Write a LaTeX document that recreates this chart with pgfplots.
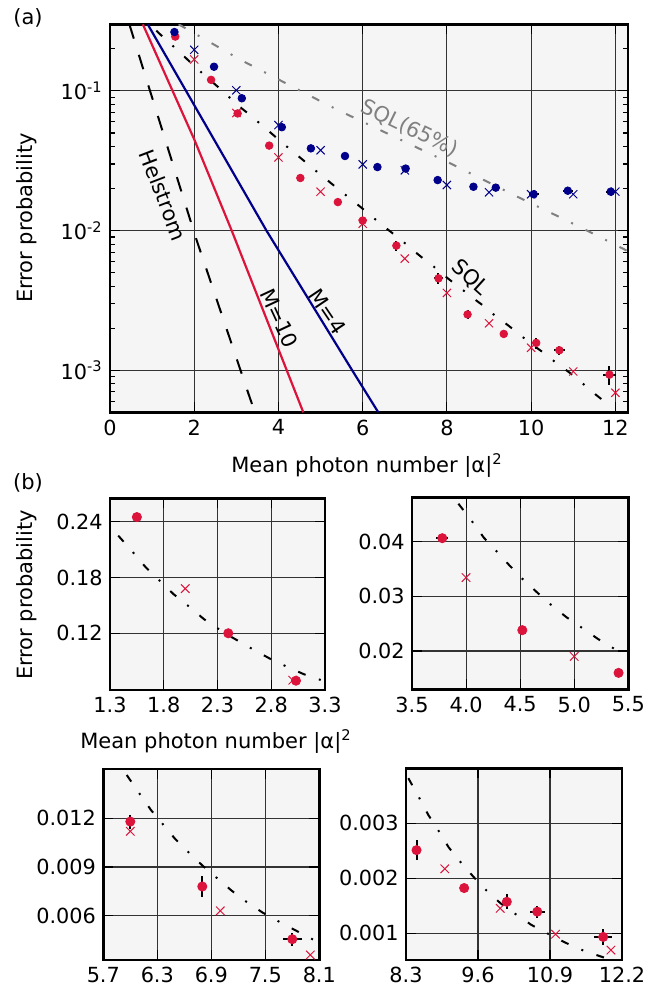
\documentclass[border=0pt]{standalone}
\usepackage{fontspec}
\setmainfont{DejaVu Sans}
\usepackage{pgfplots}
\pgfplotsset{compat=1.18}
\usepackage{pgfplotstable}

\definecolor{bgc}{RGB}{245,245,245}
\definecolor{myred}{RGB}{220,20,60}
\definecolor{myblue}{RGB}{0,0,139}
\definecolor{mygray}{RGB}{128,128,128}

\newcommand{\fs}{\fontsize{10.5}{12}\selectfont}
\newcommand{\ft}{\fontsize{10.4}{12}\selectfont}

% SQL curve (read off the picture)
\pgfplotstableread{
x y
1.10 0.270
1.377 0.225
1.517 0.2067
1.632 0.191
1.765 0.1762
1.892 0.162
2.028 0.1494
2.172 0.1354
2.37 0.120
2.624 0.1031
2.788 0.0927
2.944 0.0841
3.105 0.0759
3.279 0.069
3.929 0.0469
4.058 0.0436
4.164 0.0407
4.278 0.0383
4.407 0.0355
4.525 0.0331
4.662 0.0306
4.787 0.0284
4.926 0.0262
5.074 0.0242
5.219 0.0222
5.37 0.0204
5.96 0.01467
6.10 0.01354
6.23 0.01251
6.36 0.01165
6.497 0.01074
6.652 0.00988
6.804 0.00908
6.967 0.0083
7.127 0.00754
7.297 0.00683
7.474 0.00618
7.663 0.0056
8.041 0.0045
8.342 0.00382
8.535 0.00347
8.703 0.00315
8.883 0.00287
9.071 0.00256
9.287 0.00229
9.522 0.00202
9.757 0.00177
10.01 0.00154
10.286 0.00134
10.562 0.00115
10.912 0.000962
11.188 0.000821
11.518 0.000675
11.874 0.000555
}\sqltab

\pgfplotstableread{
x y
1.63 0.300
1.95 0.264
3.10 0.167
5.17 0.0794
5.49 0.0711
8.08 0.0303
9.67 0.0175
10.58 0.0129
11.30 0.0101
12.17 0.00745
12.30 0.0071
}\sqlgray

\pgfplotstableread{
x y
0.46 0.300
0.795 0.1416
1.313 0.0446
2.03 0.00903
3.30 0.000662
3.44 0.0005
}\helstrom

\pgfplotstableread{
x y
0.78 0.300
2.00 0.045
2.89 0.0100
3.54 0.00318
4.59 0.0005
}\mten

\pgfplotstableread{
x y
0.895 0.300
3.715 0.0100
5.75 0.0010
6.37 0.0005
}\mfour

\pgfplotstableread{
x y ex ey
1.55 0.245 0 0
2.40 0.120 0 0
3.03 0.069 0 0
3.78 0.0406 0.054 0.0008
4.52 0.0238 0 0
5.41 0.0160 0 0
6.00 0.0118 0 0.00043
6.80 0.0078 0 0.00064
7.80 0.00455 0.105 0.0004
8.49 0.00251 0 0.00018
9.35 0.00182 0 0
10.12 0.00157 0.04 0.00014
10.67 0.00139 0.135 0.00011
11.86 0.00093 0.16 0.00015
}\reddots

\pgfplotstableread{
x y
2.0 0.168
3.0 0.0695
4.0 0.0334
5.0 0.0190
6.0 0.0112
7.0 0.0063
8.0 0.00358
9.0 0.00217
10.0 0.00145
11.0 0.00098
12.0 0.00069
}\redx

\pgfplotstableread{
x y ex ey
1.53 0.264 0 0
2.47 0.149 0 0
3.13 0.0886 0 0
4.08 0.0550 0 0
4.77 0.0388 0 0
5.58 0.0342 0 0
6.35 0.0285 0 0
7.02 0.0278 0 0.0015
7.78 0.0230 0 0
8.63 0.0206 0 0
9.16 0.0203 0 0
10.06 0.0182 0.12 0
10.87 0.0193 0.12 0
11.89 0.0190 0.12 0
}\bluedots

\pgfplotstableread{
x y
2.0 0.197
3.0 0.101
4.0 0.057
5.0 0.0376
6.0 0.0298
7.0 0.0270
8.0 0.0212
9.0 0.0188
10.0 0.0182
11.0 0.0182
12.0 0.0190
}\bluex

\pgfplotsset{
  panel/.style={
    scale only axis, anchor=south west,
    axis background/.style={fill=bgc},
    grid=major, grid style={black!80, line width=0.55pt},
    axis line style={line width=1.3pt},
    major tick length=5pt, minor tick length=2.5pt,
    tick style={black, line width=0.55pt},
    tick align=inside, xtick pos=both, ytick pos=both,
    xticklabel pos=lower, yticklabel pos=left,
    scaled ticks=false,
    tick label style={font=\ft},
  },
  sqlstyle/.style={black, line width=1pt, dash pattern=on 4pt off 7pt on 1pt off 7pt, mark=none},
  ebars/.style={draw=none, mark=none, forget plot,
    error bars/x dir=both, error bars/x explicit, error bars/y dir=both, error bars/y explicit,
    error bars/error mark=none, error bars/error bar style={draw=black, line width=1pt, solid}},
}

\begin{document}
\fs
\begin{tikzpicture}
\useasboundingbox (0,0) rectangle (333.5pt,497pt);

% ---------------- panel (a)
\begin{axis}[panel, at={(55pt,290.85pt)}, width=259pt, height=194pt,
  xmin=0, xmax=12.3, ymode=log, ymin=5e-4, ymax=0.3,
  xtick={0,2,4,6,8,10,12}, xticklabels={0,2,4,6,8,10,12},
  ytick={1e-3,1e-2,1e-1},
  yticklabels={10\textsuperscript{-3},10\textsuperscript{-2},10\textsuperscript{-1}},
  minor ytick={6e-4,7e-4,8e-4,9e-4,2e-3,3e-3,4e-3,5e-3,6e-3,7e-3,8e-3,9e-3,2e-2,3e-2,4e-2,5e-2,6e-2,7e-2,8e-2,9e-2,2e-1,3e-1},
]
\addplot[sqlstyle] table[x=x,y=y] {\sqltab};
\addplot[mygray, line width=1pt, dash pattern=on 4pt off 7pt on 1pt off 7pt] table[x=x,y=y] {\sqlgray};
\addplot[black, line width=1pt, dash pattern=on 7.5pt off 8.5pt] table[x=x,y=y] {\helstrom};
\addplot[myred, line width=1.1pt] table[x=x,y=y] {\mten};
\addplot[myblue, line width=1.1pt] table[x=x,y=y] {\mfour};
\addplot[ebars] table[x=x,y=y,x error=ex,y error=ey] {\reddots};
\addplot[ebars] table[x=x,y=y,x error=ex,y error=ey] {\bluedots};
\addplot[only marks, mark=*, myred, mark size=1.9pt] table[x=x,y=y] {\reddots};
\addplot[only marks, mark=x, myred, mark size=2.9pt, mark options={line width=0.5pt}] table[x=x,y=y] {\redx};
\addplot[only marks, mark=*, myblue, mark size=1.9pt] table[x=x,y=y] {\bluedots};
\addplot[only marks, mark=x, myblue, mark size=2.9pt, mark options={line width=0.5pt}] table[x=x,y=y] {\bluex};
\node[rotate=-69, font=\fs] at (axis cs:1.265,0.018) {Helstrom};
\node[rotate=-65, font=\fs] at (axis cs:4.02,0.00235) {M=10};
\node[rotate=-56, font=\fs] at (axis cs:5.17,0.00262) {M=4};
\node[rotate=-42, font=\fs] at (axis cs:8.55,0.0046) {SQL};
\node[rotate=-26, font=\fs, text=mygray] at (axis cs:7.12,0.054) {SQL(65\%)};
\end{axis}

% ---------------- panel (b) 1
\begin{axis}[panel, at={(55pt,152pt)}, width=107.5pt, height=95.85pt,
  xmin=1.3, xmax=3.3, ymin=0.059, ymax=0.2652,
  xtick={1.3,1.8,2.3,2.8,3.3}, xticklabels={1.3,1.8,2.3,2.8,3.3},
  ytick={0.12,0.18,0.24}, yticklabels={0.12,0.18,0.24},
]
\addplot[sqlstyle, restrict x to domain=1.3:3.3] table[x=x,y=y] {\sqltab};
\addplot[restrict x to domain=1.3:3.3, ebars] table[x=x,y=y,x error=ex,y error=ey] {\reddots};
\addplot[only marks, mark=x, myred, mark size=3pt, mark options={line width=0.5pt}, restrict x to domain=1.3:3.3] table[x=x,y=y] {\redx};
\addplot[only marks, mark=*, myred, mark size=2.3pt, restrict x to domain=1.3:3.3] table[x=x,y=y] {\reddots};
\end{axis}

% ---------------- panel (b) 2
\begin{axis}[panel, at={(206pt,152.35pt)}, width=108.15pt, height=95.8pt,
  xmin=3.5, xmax=5.5, ymin=0.013, ymax=0.048,
  xtick={3.5,4.0,4.5,5.0,5.5}, xticklabels={3.5,4.0,4.5,5.0,5.5},
  ytick={0.02,0.03,0.04}, yticklabels={0.02,0.03,0.04},
]
\addplot[sqlstyle, restrict x to domain=3.5:5.5] table[x=x,y=y] {\sqltab};
\addplot[restrict x to domain=3.5:5.5, ebars] table[x=x,y=y,x error=ex,y error=ey] {\reddots};
\addplot[only marks, mark=x, myred, mark size=3pt, mark options={line width=0.5pt}, restrict x to domain=3.5:5.5] table[x=x,y=y] {\redx};
\addplot[only marks, mark=*, myred, mark size=2.3pt, restrict x to domain=3.5:5.5] table[x=x,y=y] {\reddots};
\end{axis}

% ---------------- panel (b) 3
\begin{axis}[panel, at={(51.65pt,17pt)}, width=108pt, height=95.5pt,
  xmin=5.7, xmax=8.1, ymin=0.00327, ymax=0.01504,
  xtick={5.7,6.3,6.9,7.5,8.1}, xticklabels={5.7,6.3,6.9,7.5,8.1},
  ytick={0.006,0.009,0.012}, yticklabels={0.006,0.009,0.012},
]
\addplot[sqlstyle, restrict x to domain=5.7:8.1] table[x=x,y=y] {\sqltab};
\addplot[restrict x to domain=5.7:8.1, ebars] table[x=x,y=y,x error=ex,y error=ey] {\reddots};
\addplot[only marks, mark=x, myred, mark size=3pt, mark options={line width=0.5pt}, restrict x to domain=5.7:8.1] table[x=x,y=y] {\redx};
\addplot[only marks, mark=*, myred, mark size=2.3pt, restrict x to domain=5.7:8.1] table[x=x,y=y] {\reddots};
\end{axis}

% ---------------- panel (b) 4
\begin{axis}[panel, at={(203pt,17pt)}, width=108pt, height=95.85pt,
  xmin=8.3, xmax=12.2, ymin=0.00051, ymax=0.004,
  xtick={8.3,9.6,10.9,12.2}, xticklabels={8.3,9.6,10.9,12.2},
  ytick={0.001,0.002,0.003}, yticklabels={0.001,0.002,0.003},
]
\addplot[sqlstyle, restrict x to domain=8.3:12.2] table[x=x,y=y] {\sqltab};
\addplot[restrict x to domain=8.3:12.2, ebars] table[x=x,y=y,x error=ex,y error=ey] {\reddots};
\addplot[only marks, mark=x, myred, mark size=3pt, mark options={line width=0.5pt}, restrict x to domain=8.3:12.2] table[x=x,y=y] {\redx};
\addplot[only marks, mark=*, myred, mark size=2.3pt, restrict x to domain=8.3:12.2] table[x=x,y=y] {\reddots};
\end{axis}

% ---------------- labels
\node[font=\fs] at (14pt,488pt) {(a)};
\node[font=\fs] at (14pt,255.75pt) {(b)};
\node[font=\fs, rotate=90] at (13.5pt,388pt) {Error probability};
\node[font=\fs] at (183.5pt,264pt) {Mean photon number |α|\textsuperscript{2}};
\node[font=\fs, rotate=90] at (13.5pt,199.5pt) {Error probability};
\node[font=\fs] at (108pt,126pt) {Mean photon number |α|\textsuperscript{2}};
\end{tikzpicture}
\end{document}
